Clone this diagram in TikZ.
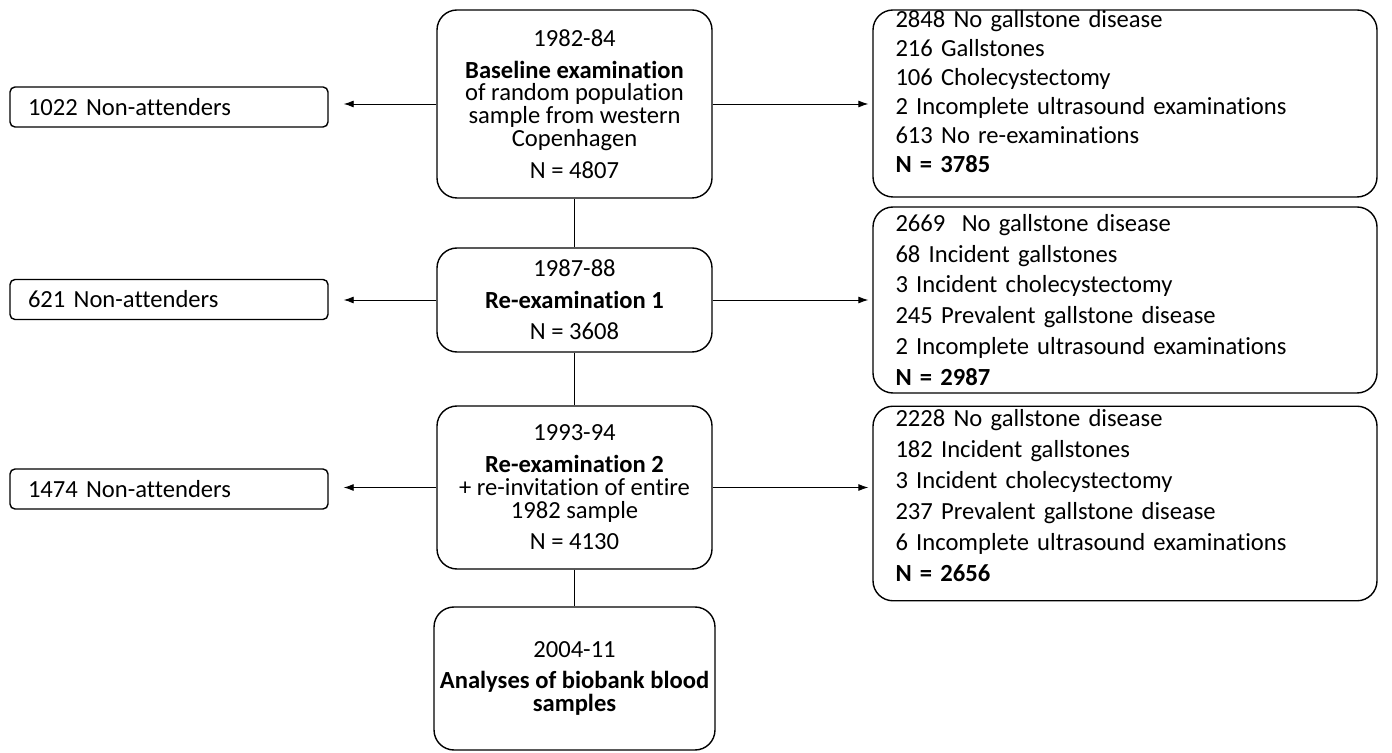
\documentclass[tikz,border=0pt]{standalone}
\usepackage{fontspec}
\setmainfont{Carlito}[Ligatures=CommonOff]
\usetikzlibrary{arrows.meta}

\tikzset{
  stage/.style = {draw, line width = 0.8pt, rounded corners = 0.4cm, align = center,
    minimum width = 5.5cm, font = \fontsize{14pt}{13pt}\selectfont},
  dropout/.style = {draw, line width = 0.8pt, rounded corners = 0.1cm, align = left,
    text width = 5.64cm, inner xsep = 0.36cm, minimum height = 0.8cm,
    font = \fontsize{14pt}{13pt}\selectfont},
  outcome/.style = {draw, line width = 0.8pt, rounded corners = 0.4cm, align = left,
    text width = 9.18cm, inner xsep = 0.45cm, inner ysep = 2pt,
    font = \fontsize{14pt}{17.6pt}\selectfont},
  link/.style = {line width = 0.8pt},
  arr/.style = {line width = 0.5pt, -{Latex[length = 2mm, width = 1.4mm]}}
}

\begin{document}
\begin{tikzpicture}
  \useasboundingbox (0, 0) rectangle (27.84, 15.04);

  % centre column
  \node[stage, minimum height = 3.76cm] (c1) at (11.49, 12.96)
    {1982-84\\[5pt] \textbf{Baseline examination}\\ of random population\\ sample from western\\ Copenhagen\\[5pt] N = 4807};
  \node[stage, minimum height = 2.08cm] (c2) at (11.49, 9.04)
    {1987-88\\[5pt] \textbf{Re-examination 1}\\[5pt] N = 3608};
  \node[stage, minimum height = 3.26cm] (c3) at (11.49, 5.29)
    {1993-94\\[5pt] \textbf{Re-examination 2}\\ + re-invitation of entire\\ 1982 sample\\[5pt] N = 4130};
  \node[stage, minimum height = 2.86cm] (c4) at (11.49, 1.47)
    {2004-11\\[5pt] \textbf{Analyses of biobank blood}\\ \textbf{samples}};

  % non-attenders
  \node[dropout] (l1) at (3.38, 12.9) {1022 Non-attenders};
  \node[dropout] (l2) at (3.38, 9.05) {621 Non-attenders};
  \node[dropout] (l3) at (3.38, 5.26) {1474 Non-attenders};

  % findings
  \node[outcome, minimum height = 3.74cm, inner ysep = 0pt, font = \fontsize{14pt}{16.5pt}\selectfont] (r1) at (22.5, 12.97)
    {2848 No gallstone disease\\ 216 Gallstones\\ 106 Cholecystectomy\\ 2 Incomplete ultrasound examinations\\ 613 No re-examinations\\ \textbf{N = 3785}\\[-2.7pt]\mbox{}};
  \node[outcome, minimum height = 3.72cm] (r2) at (22.5, 9.04)
    {2669\ \ No gallstone disease\\ 68 Incident gallstones\\ 3 Incident cholecystectomy\\ 245 Prevalent gallstone disease\\ 2 Incomplete ultrasound examinations\\ \textbf{N = 2987}};
  \node[outcome, minimum height = 3.86cm] (r3) at (22.5, 4.97)
    {2228 No gallstone disease\\ 182 Incident gallstones\\ 3 Incident cholecystectomy\\ 237 Prevalent gallstone disease\\ 6 Incomplete ultrasound examinations\\ \textbf{N = 2656}\\[-8.6pt]\mbox{}};

  \draw[link] (c1) -- (c2);
  \draw[link] (c2) -- (c3);
  \draw[link] (c3) -- (c4);

  \draw[arr, shorten > = 0.3cm] (c1.west) -- (c1.west -| l1.east);
  \draw[arr, shorten > = 0.3cm] (c2.west) -- (c2.west -| l2.east);
  \draw[arr, shorten > = 0.3cm] (c3.west) -- (c3.west -| l3.east);

  \draw[arr, shorten > = 0.08cm] (c1.east) -- (c1.east -| r1.west);
  \draw[arr, shorten > = 0.08cm] (c2.east) -- (c2.east -| r2.west);
  \draw[arr, shorten > = 0.08cm] (c3.east) -- (c3.east -| r3.west);
\end{tikzpicture}
\end{document}
